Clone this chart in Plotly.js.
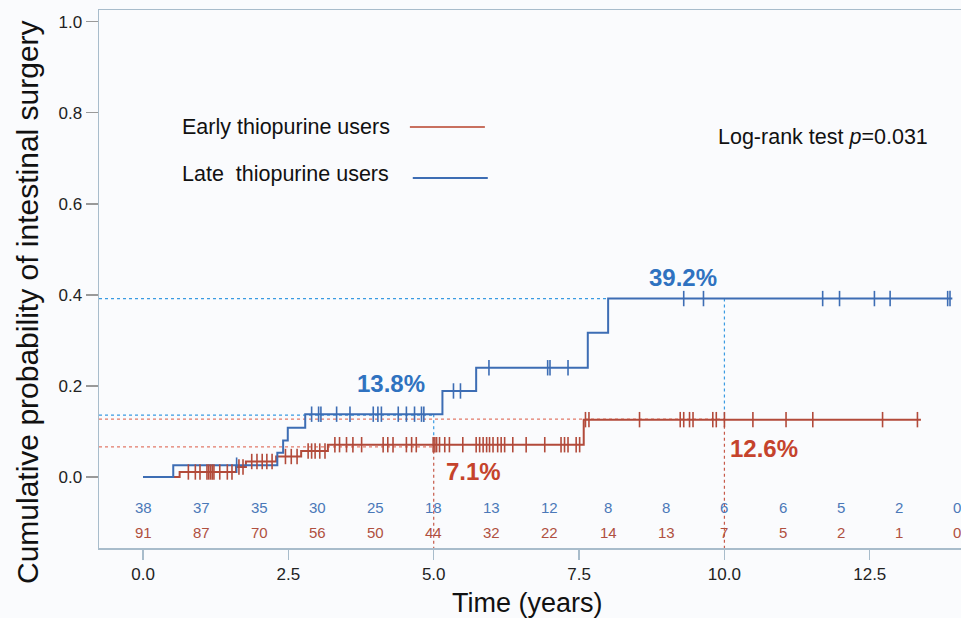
<!DOCTYPE html>
<html>
<head>
<meta charset="utf-8">
<script src="https://cdn.plot.ly/plotly-3.0.1.min.js"></script>
<style>
html,body{margin:0;padding:0;background:#fafbfd;overflow:hidden;}
#chart{width:975px;height:618px;}
</style>
</head>
<body>
<div id="chart"></div>
<script>
// Step curves (event times, cumulative probability after each step)
const earlyTimes  = [0, 0.63, 1.60, 1.77, 2.29, 2.72, 3.18, 7.58, 13.38];
const earlyLevels = [0, 0.011, 0.022, 0.034, 0.045, 0.057, 0.071, 0.126, 0.126];
const lateTimes   = [0, 0.52, 2.31, 2.41, 2.49, 2.79, 5.15, 5.73, 7.65, 8.00, 13.92];
const lateLevels  = [0, 0.026, 0.053, 0.080, 0.108, 0.138, 0.189, 0.240, 0.317, 0.392, 0.392];

// Censoring times
const earlyCensor = [0.78, 0.90, 0.98, 1.10, 1.13, 1.16, 1.19, 1.22, 1.32, 1.45, 1.53,
  1.65, 1.72, 1.87, 1.96, 2.05, 2.13, 2.22, 2.45, 2.55, 2.65,
  2.84, 2.90, 2.96, 3.04, 3.13,
  3.30, 3.38, 3.50, 3.61, 3.76, 4.13, 4.21, 4.30, 4.53, 4.62, 4.70, 4.99, 5.02, 5.05, 5.10,
  5.19, 5.27, 5.50, 5.73, 5.79, 5.85, 5.91, 5.96, 6.02, 6.10, 6.16, 6.22, 6.36, 6.59, 6.91,
  7.19, 7.25, 7.31, 7.45, 7.51,
  7.61, 7.67, 8.54, 9.24, 9.30, 9.40, 9.46, 9.80, 9.86, 10.0, 10.49, 11.06, 11.52, 12.72, 13.32];
const lateCensor = [1.61, 2.90, 3.02, 3.06, 3.33, 3.56, 3.96, 4.04, 4.10, 4.39, 4.53, 4.67,
  4.79, 4.83, 5.34, 5.46, 5.95, 6.96, 7.00, 7.31, 9.30, 9.64, 11.69, 11.98, 12.58, 12.85, 13.84, 13.88];

// Numbers at risk
const riskYears = [0,1,2,3,4,5,6,7,8,9,10,11,12,13,14];
const riskLate  = [38,37,35,30,25,18,13,12,8,8,6,6,5,2,0];
const riskEarly = [91,87,70,56,50,44,32,22,14,13,7,5,2,1,0];

// Highlighted estimates
const markYears = [5, 10];
const lateMarks  = [0.138, 0.392];
const earlyMarks = [0.071, 0.126];
const lateMarkLabels  = ['13.8%', '39.2%'];
const earlyMarkLabels = ['7.1%', '12.6%'];

const xTicks = [0, 2.5, 5, 7.5, 10, 12.5];
const yTicks = [0, 0.2, 0.4, 0.6, 0.8, 1.0];

const RED = '#b24a3a', BLUE = '#3d6db4';
const RED_TXT = '#c5432c', BLUE_TXT = '#2f72c0';
const RED_DOT = '#e27a68', BLUE_DOT = '#3a9be2';
const XMIN = -0.757, XMAX = 14.31, YMIN = -0.156, YMAX = 1.026;

function levelAt(times, levels, t){
  let v = levels[0];
  for(let i=0;i<times.length;i++){ if(times[i] <= t) v = levels[i]; }
  return v;
}

const traces = [
  {x: earlyTimes, y: earlyLevels, mode:'lines', line:{shape:'hv', color:RED, width:2}, name:'Early thiopurine users', hoverinfo:'skip'},
  {x: lateTimes, y: lateLevels, mode:'lines', line:{shape:'hv', color:BLUE, width:2}, name:'Late thiopurine users', hoverinfo:'skip'},
  {x: earlyCensor, y: earlyCensor.map(t=>levelAt(earlyTimes, earlyLevels, t)), mode:'markers',
   marker:{symbol:'line-ns', size:11, line:{color:RED, width:1.6}}, hoverinfo:'skip'},
  {x: lateCensor, y: lateCensor.map(t=>levelAt(lateTimes, lateLevels, t)), mode:'markers',
   marker:{symbol:'line-ns', size:11, line:{color:BLUE, width:1.6}}, hoverinfo:'skip'}
];

const dot = (color)=>({color:color, width:1.2, dash:'dot'});
const shapes = [
  // horizontal reference lines
  {type:'line', xref:'x', yref:'y', x0:XMIN, x1:lateTimes[9], y0:lateMarks[1], y1:lateMarks[1], line:dot(BLUE_DOT), layer:'below'},
  {type:'line', xref:'x', yref:'y', x0:XMIN, x1:markYears[0], y0:0.136, y1:0.136, line:dot(BLUE_DOT), layer:'below'},
  {type:'line', xref:'x', yref:'y', x0:XMIN, x1:markYears[1], y0:0.127, y1:0.127, line:dot(RED_DOT), layer:'below'},
  {type:'line', xref:'x', yref:'y', x0:XMIN, x1:markYears[0], y0:0.066, y1:0.066, line:dot(RED_DOT), layer:'below'},
  // vertical reference lines
  {type:'line', xref:'x', yref:'y', x0:markYears[1], x1:markYears[1], y0:lateMarks[1], y1:earlyMarks[1], line:dot(BLUE_DOT), layer:'below'},
  {type:'line', xref:'x', yref:'y', x0:markYears[1], x1:markYears[1], y0:earlyMarks[1], y1:YMIN, line:dot('#c65a4a'), layer:'below'},
  {type:'line', xref:'x', yref:'y', x0:markYears[0], x1:markYears[0], y0:lateMarks[0], y1:earlyMarks[0], line:dot(BLUE_DOT), layer:'below'},
  {type:'line', xref:'x', yref:'y', x0:markYears[0], x1:markYears[0], y0:earlyMarks[0], y1:YMIN, line:dot('#c65a4a'), layer:'below'},
  // legend keys
  {type:'line', xref:'x', yref:'y', x0:4.59, x1:5.88, y0:0.769, y1:0.769, line:{color:'#c8705f', width:2}},
  {type:'line', xref:'x', yref:'y', x0:4.64, x1:5.93, y0:0.657, y1:0.657, line:{color:BLUE, width:2}}
];

const annotations = [];
// estimate labels
annotations.push({x:4.27, y:0.205, xref:'x', yref:'y', text:'<b>'+lateMarkLabels[0]+'</b>', showarrow:false, font:{size:24, color:BLUE_TXT}});
annotations.push({x:9.28, y:0.438, xref:'x', yref:'y', text:'<b>'+lateMarkLabels[1]+'</b>', showarrow:false, font:{size:24, color:BLUE_TXT}});
annotations.push({x:5.69, y:0.011, xref:'x', yref:'y', text:'<b>'+earlyMarkLabels[0]+'</b>', showarrow:false, font:{size:24, color:RED_TXT}});
annotations.push({x:10.68, y:0.062, xref:'x', yref:'y', text:'<b>'+earlyMarkLabels[1]+'</b>', showarrow:false, font:{size:24, color:RED_TXT}});
// legend texts
annotations.push({x:0.636, y:0.769, xref:'x', yref:'y', xanchor:'left', text:'Early thiopurine users', showarrow:false, font:{size:21.5, color:'#111'}});
annotations.push({x:0.636, y:0.666, xref:'x', yref:'y', xanchor:'left', text:'Late  thiopurine users', showarrow:false, font:{size:21.5, color:'#111'}});
annotations.push({x:11.69, y:0.747, xref:'x', yref:'y', text:'Log-rank test <i>p</i>=0.031', showarrow:false, font:{size:21.5, color:'#111'}});
// risk table
riskYears.forEach((yr,i)=>{
  annotations.push({x:yr, y:-0.068, xref:'x', yref:'y', text:String(riskLate[i]), showarrow:false, font:{size:15, color:'#4a78b8'}});
  annotations.push({x:yr, y:-0.121, xref:'x', yref:'y', text:String(riskEarly[i]), showarrow:false, font:{size:15, color:'#b0503f'}});
});
// axis titles
annotations.push({xref:'paper', yref:'paper', x:(527-99)/876, y:(548-603)/538, text:'Time (years)', showarrow:false, font:{size:27, color:'#111'}, yanchor:'middle'});
annotations.push({xref:'paper', yref:'paper', x:(27-99)/876, y:(548-302)/538, text:'Cumulative probability of intestinal surgery', textangle:-90, showarrow:false, font:{size:30, color:'#111'}, xanchor:'center', yanchor:'middle'});

const axisCol = '#a8bccb';
const layout = {
  width:975, height:618,
  margin:{l:99, r:0, t:10, b:70},
  paper_bgcolor:'#fafbfd', plot_bgcolor:'#fafbfd',
  showlegend:false,
  font:{family:'Arial, "Liberation Sans", sans-serif', color:'#333'},
  xaxis:{range:[XMIN, XMAX], tickvals:xTicks, ticktext:xTicks.map(v=>v.toFixed(1)), showgrid:false, zeroline:false,
         showline:true, mirror:true, linecolor:axisCol, linewidth:1.5, ticks:'outside', ticklen:10, tickcolor:axisCol, tickwidth:1.2,
         tickfont:{size:17, color:'#222'}},
  yaxis:{range:[YMIN, YMAX], tickvals:yTicks, ticktext:yTicks.map(v=>v.toFixed(1)), showgrid:false, zeroline:false,
         showline:true, mirror:true, linecolor:axisCol, linewidth:1.5, ticks:'outside', ticklen:12, tickcolor:'#999', tickwidth:1.2,
         tickfont:{size:17, color:'#222'}},
  shapes:shapes,
  annotations:annotations
};

Plotly.newPlot('chart', traces, layout, {displayModeBar:false, staticPlot:true});
</script>
</body>
</html>
